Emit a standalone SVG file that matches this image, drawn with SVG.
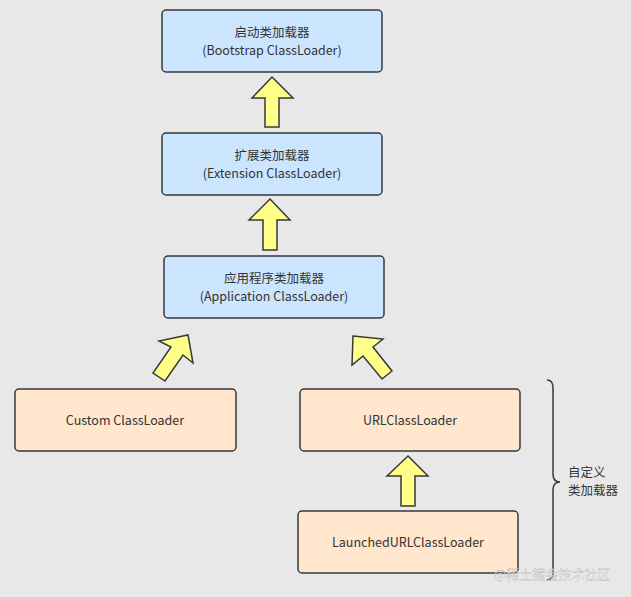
<svg xmlns="http://www.w3.org/2000/svg" width="631" height="597" viewBox="0 0 631 597">
<style>
.blue{fill:#cce5ff;stroke:#36393d;stroke-width:1.5}
.orange{fill:#ffe6cc;stroke:#36393d;stroke-width:1.5}
.arr{fill:#ffff88;stroke:#36393d;stroke-width:1.5;stroke-linejoin:miter}
text{font-family:"Microsoft YaHei","Noto Sans CJK SC","Noto Sans",sans-serif;font-size:12.5px;fill:#333;text-anchor:middle}
</style>
<rect width="631" height="597" fill="#e8e8e8"/>
<g id="bootstrap"><rect class="blue" x="162" y="10" width="220" height="62" rx="4"/><text x="272" y="37">启动类加载器</text><text x="272" y="55">(Bootstrap ClassLoader)</text></g>
<g id="extension"><rect class="blue" x="162" y="133" width="220" height="62" rx="4"/><text x="272" y="160">扩展类加载器</text><text x="272" y="178">(Extension ClassLoader)</text></g>
<g id="application"><rect class="blue" x="164" y="256" width="220" height="62" rx="4"/><text x="274" y="283">应用程序类加载器</text><text x="274" y="301">(Application ClassLoader)</text></g>
<g id="custom"><rect class="orange" x="15" y="389" width="221" height="62" rx="4"/><text x="125" y="425">Custom ClassLoader</text></g>
<g id="url"><rect class="orange" x="300" y="389" width="220" height="62" rx="4"/><text x="410" y="425">URLClassLoader</text></g>
<g id="launched"><rect class="orange" x="298" y="511" width="220" height="62" rx="4"/><text x="408" y="547">LaunchedURLClassLoader</text></g>
<g id="connectors">
<polygon class="arr" points="272,77 293,98 279,98 279,127 265,127 265,98 252,98"/>
<polygon class="arr" points="270,199 290,220 277,220 277,250 263,250 263,220 249,220"/>
<polygon class="arr" points="188,335 193,363 183,355 165,381 153,373 171,347 159,341"/>
<polygon class="arr" points="353,336 383,339 373,347 392,371 382,379 363,356 352,365"/>
<polygon class="arr" points="408,456 428,476 415,476 415,506 401,506 401,476 387,476"/>
</g>
<g id="brace"><path d="M547,380 Q553,380 553,388 L553,474 Q553,482 560,482 Q553,482 553,490 L553,572 Q553,580 547,580" fill="none" stroke="#36393d" stroke-width="1.5"/>
<text x="568" y="477" style="text-anchor:start">自定义</text><text x="568" y="495" style="text-anchor:start">类加载器</text></g>
<text x="552" y="579" style="font-size:13px;fill:#fff;fill-opacity:0.75;stroke:#aaa;stroke-width:0.3">@稀土掘金技术社区</text>
</svg>
